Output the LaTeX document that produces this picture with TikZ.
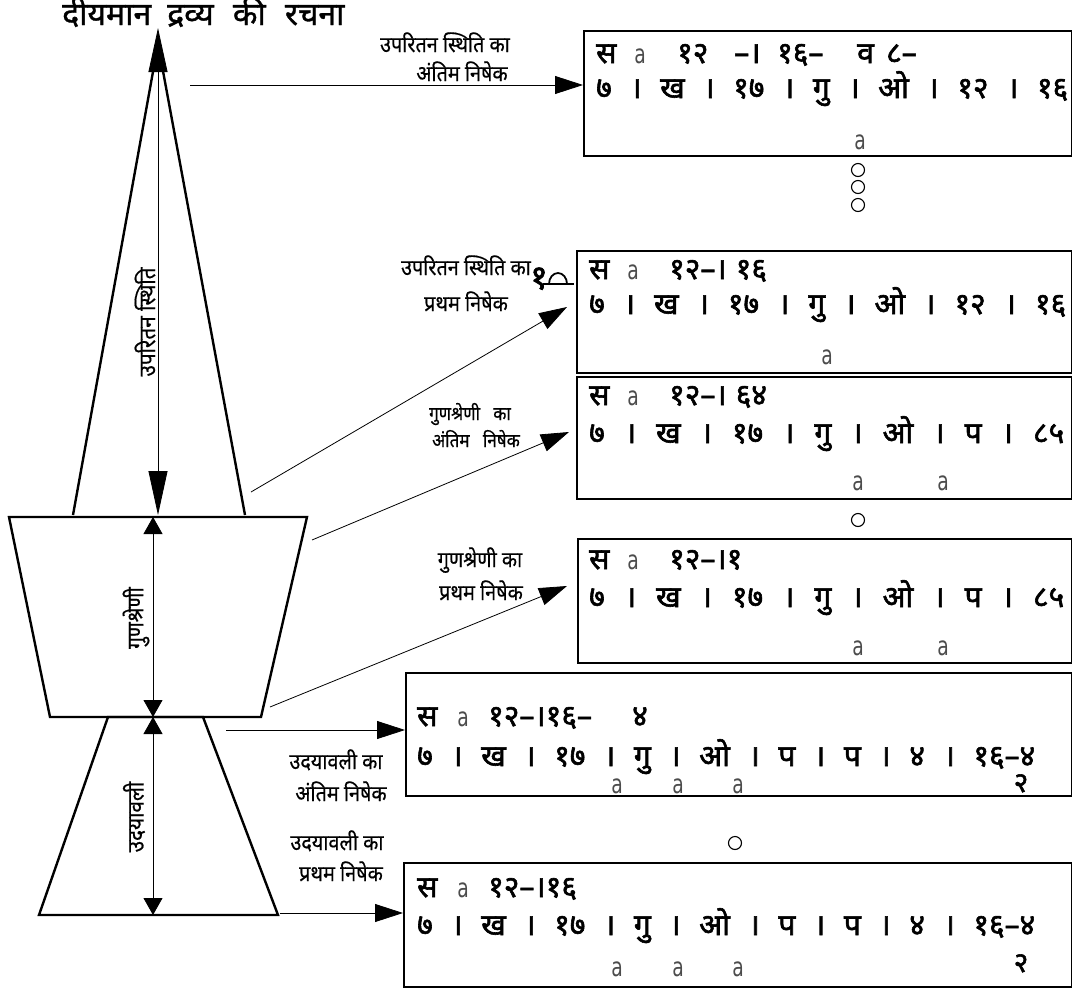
\documentclass[tikz,border=0pt]{standalone}
\usepackage{fontspec}
\setmainfont{Noto Sans}[Script=Devanagari]
\newfontfamily\dev[Script=Devanagari]{Noto Sans}
\newfontfamily\devb[Script=Devanagari,FakeBold=2]{Noto Sans}
\newfontfamily\devm[Script=Devanagari,FakeBold=1]{Noto Sans}
\newfontfamily\devc[Script=Devanagari,FakeStretch=0.9,FakeBold=0.5]{Noto Sans}
\newfontfamily\lat{DejaVu Sans}
\usetikzlibrary{arrows.meta}
\newcommand\myA{{\lat\mdseries\color{black!70}\scalebox{0.75}[1.05]{a}}}
\tikzset{
  outline/.style={line width=2.4pt, line join=miter},
  boxframe/.style={draw, line width=1.8pt, inner sep=0pt, anchor=north west},
  boxtxt/.style={anchor=base west, inner sep=0pt, font=\devb\fontsize{30}{30}\selectfont},
  boxa/.style={anchor=base, inner sep=0pt, font=\fontsize{25}{25}\selectfont},
  lbl/.style={inner sep=0pt, anchor=base, font=\devc\fontsize{22}{22}\selectfont},
  lblsmall/.style={inner sep=0pt, anchor=base, font=\devc\fontsize{19}{19}\selectfont},
  side/.style={inner sep=0pt, rotate=90, font=\devc\fontsize{23}{23}\selectfont},
  ptr/.style={line width=0.8pt, -{Triangle[length=28pt,width=18pt]}},
  dimarrow/.style={line width=0.8pt, {Triangle[length=17pt,width=19pt]}-{Triangle[length=17pt,width=19pt]}},
  longarrow/.style={line width=0.8pt, {Triangle[length=44pt,width=19pt]}-{Triangle[length=44pt,width=19pt]}},
  dot/.style={circle, draw, line width=1.1pt, minimum size=13pt, inner sep=0pt},
}
\newcommand\rowA{७\hfill।\hfill ख\hfill।\hfill १७\hfill।\hfill गु\hfill।\hfill ओ\hfill।\hfill १२\hfill।\hfill १६}
\newcommand\rowB{७\hfill।\hfill ख\hfill।\hfill १७\hfill।\hfill गु\hfill।\hfill ओ\hfill।\hfill प\hfill।\hfill ८५}
\newcommand\rowC{७\hfill।\hfill ख\hfill।\hfill १७\hfill।\hfill गु\hfill।\hfill ओ\hfill।\hfill प\hfill।\hfill प\hfill।\hfill ४\hfill।\hfill १६–४}
\begin{document}
\begin{tikzpicture}[x=1pt,y=-1pt]
\path[use as bounding box] (0,0) rectangle (1072,988);

% title
\node[inner sep=0pt, anchor=base west, font=\devm\fontsize{32}{32}\selectfont] (title) at (62,25) {दीयमान\hspace{0.5em}द्रव्य\hspace{0.6em}की\hspace{0.6em}रचना};

% left shapes
\coordinate (spT) at (158,28);
\coordinate (spB) at (158,515);
\draw[outline] (73,515) -- (158,44) -- (245,515);
\draw[outline] (9,517) -- (307,517) -- (261,717) -- (50,717) -- cycle;
\draw[outline] (108,717) -- (203,717) -- (278,915) -- (39,915) -- cycle;
\draw[longarrow] (spT) -- (spB);
\coordinate (gT) at (153,517);
\coordinate (gB) at (153,717);
\coordinate (uT) at (153,717);
\coordinate (uB) at (153,915);
\draw[dimarrow] (gT) -- (gB);
\draw[dimarrow] (uT) -- (uB);
\node[side] (sideA) at (145,322) {उपरितन स्थिति};
\node[side] (sideB) at (136,618) {गुणश्रेणी};
\node[side] (sideC) at (134,817) {उदयावली};

% boxes
\node[boxframe, minimum width=488pt, minimum height=125pt] (b1) at (583,30) {};
\node[boxframe, minimum width=495pt, minimum height=122pt] (b2) at (576,250) {};
\node[boxframe, minimum width=495pt, minimum height=122pt] (b3) at (576,376) {};
\node[boxframe, minimum width=494pt, minimum height=124pt] (b4) at (577,538) {};
\node[boxframe, minimum width=666pt, minimum height=123pt] (b5) at (405,672) {};
\node[boxframe, minimum width=668pt, minimum height=124pt] (b6) at (403,862) {};

% box 1 text
\node[boxtxt] (t1a1) at (596,63) {स};
\node[boxa]   (t1a2) at (640,63) {\myA};
\node[boxtxt] (t1a3) at (677,63) {१२};
\node[boxtxt] (t1a4) at (734,63) {–।};
\node[boxtxt] (t1a5) at (777,63) {१६–};
\node[boxtxt] (t1a6) at (857,63) {व};
\node[boxtxt] (t1a7) at (886,63) {८–};
\node[boxtxt] (t1b) at (596,98) {\makebox[472pt][s]{\rowA}};
\node[boxa] (t1c) at (860,149) {\myA};

% box 2 text
\node[boxtxt] (t2a1) at (589,279) {स};
\node[boxa]   (t2a2) at (633,279) {\myA};
\node[boxtxt] (t2a3) at (669,279) {१२–।\hspace{0.3em}१६};
\node[boxtxt] (t2b) at (589,314) {\makebox[477pt][s]{\rowA}};
\node[boxa] (t2c) at (827,364) {\myA};

% box 3 text
\node[boxtxt] (t3a1) at (589,405) {स};
\node[boxa]   (t3a2) at (633,405) {\myA};
\node[boxtxt] (t3a3) at (669,405) {१२–।\hspace{0.3em}६४};
\node[boxtxt] (t3b) at (589,443) {\makebox[475pt][s]{\rowB}};
\node[boxa] (t3c) at (858,490) {\myA};
\node[boxa] (t3d) at (943,490) {\myA};

% box 4 text
\node[boxtxt] (t4a1) at (589,569) {स};
\node[boxa]   (t4a2) at (633,569) {\myA};
\node[boxtxt] (t4a3) at (669,569) {१२–।१};
\node[boxtxt] (t4b) at (589,607) {\makebox[475pt][s]{\rowB}};
\node[boxa] (t4c) at (858,655) {\myA};
\node[boxa] (t4d) at (943,655) {\myA};

% box 5 text
\node[boxtxt] (t5a1) at (417,726) {स};
\node[boxa]   (t5a2) at (463,726) {\myA};
\node[boxtxt] (t5a3) at (488,726) {१२–।१६–};
\node[boxtxt] (t5a4) at (632,726) {४};
\node[boxtxt] (t5b) at (417,766) {\makebox[618pt][s]{\rowC}};
\node[boxa] (t5c) at (617,793) {\myA};
\node[boxa] (t5d) at (678,793) {\myA};
\node[boxa] (t5e) at (738,793) {\myA};
\node[boxa, font=\devb\fontsize{28}{28}\selectfont] (t5f) at (1021,792) {२};

% box 6 text
\node[boxtxt] (t6a1) at (417,897) {स};
\node[boxa]   (t6a2) at (463,897) {\myA};
\node[boxtxt] (t6a3) at (488,897) {१२–।१६};
\node[boxtxt] (t6b) at (417,935) {\makebox[618pt][s]{\rowC}};
\node[boxa] (t6c) at (617,976) {\myA};
\node[boxa] (t6d) at (678,976) {\myA};
\node[boxa] (t6e) at (738,976) {\myA};
\node[boxa, font=\devb\fontsize{28}{28}\selectfont] (t6f) at (1021,972) {२};

% continuation circles
\node[dot] (c1) at (858,170) {};
\node[dot] (c2) at (858,187) {};
\node[dot] (c3) at (858,205) {};
\node[dot] (c4) at (858,520) {};
\node[dot] (c5) at (735,843) {};

% labels
\node[lbl] (l1a) at (445,52) {उपरितन स्थिति का};
\node[lbl] (l1b) at (462,81) {अंतिम निषेक};
\node[lbl] (l2a) at (466,275) {उपरितन स्थिति का};
\node[lbl] (l2b) at (466,311) {प्रथम निषेक};
\node[lblsmall] (l3a) at (470,420) {गुणश्रेणी\hspace{0.7em}का};
\node[lblsmall] (l3b) at (476,447) {अंतिम\hspace{0.7em}निषेक};
\node[lbl] (l4a) at (480,567) {गुणश्रेणी का};
\node[lbl] (l4b) at (481,600) {प्रथम निषेक};
\node[lbl] (l5a) at (336,769) {उदयावली का};
\node[lbl] (l5b) at (341,801) {अंतिम निषेक};
\node[lbl] (l6a) at (337,850) {उदयावली का};
\node[lbl] (l6b) at (341,881) {प्रथम निषेक};

% stray marks near label 2
\node[inner sep=0pt, anchor=base, font=\devb\fontsize{34}{34}\selectfont] (stray) at (539,289) {१};
\draw[line width=1.8pt] (543,284) -- (574,284);
\draw[line width=1.8pt] (549,284) arc[start angle=180, end angle=0, x radius=9pt, y radius=11pt];

% pointer arrows
\coordinate (p1s) at (190,85);
\coordinate (p2s) at (251,492);
\coordinate (p3s) at (312,540);
\coordinate (p4s) at (270,707);
\coordinate (p5s) at (226,730);
\coordinate (p6s) at (280,913);
\draw[ptr] (p1s) -- (p1s -| b1.west);
\draw[ptr] (p2s) -- (567,307);
\draw[ptr] (p3s) -- (569,432);
\draw[ptr] (p4s) -- (567,586);
\draw[ptr] (p5s) -- (p5s -| b5.west);
\draw[ptr] (p6s) -- (p6s -| b6.west);
\end{tikzpicture}
\end{document}
